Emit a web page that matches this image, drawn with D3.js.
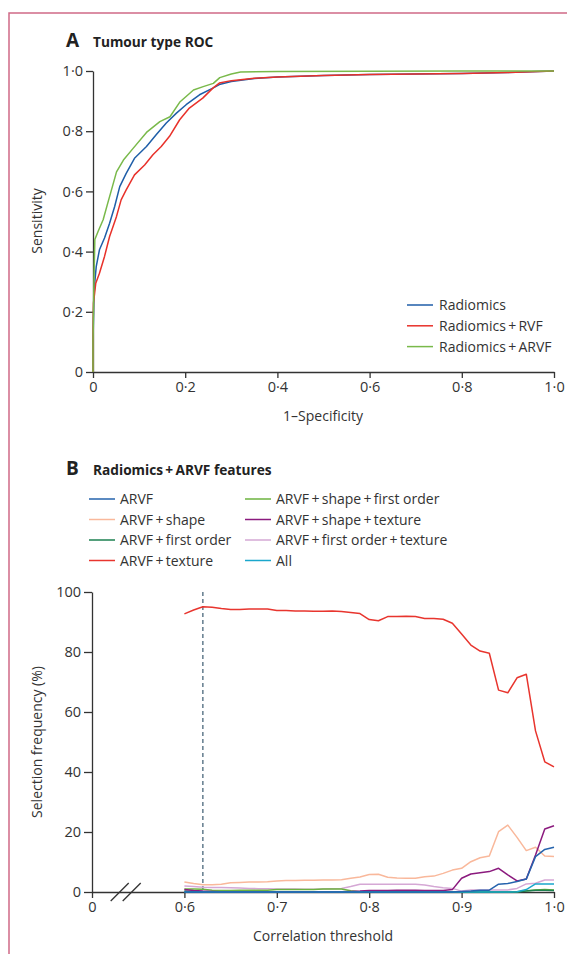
<!DOCTYPE html>
<html>
<head>
<meta charset="utf-8">
<script src="https://cdn.jsdelivr.net/npm/d3@7"></script>
<style>
  body { margin: 0; background: #fff; }
  svg { display: block; font-family: "Open Sans", "Noto Sans", sans-serif; }
  .axis path, .axis line { stroke: #333; stroke-width: 1.3; }
  .axis text { fill: #333; font-size: 14.5px; font-family: "Open Sans", "Noto Sans", sans-serif; }
  .lbl { fill: #333; font-size: 14px; }
</style>
</head>
<body>
<div class="chart"></div>
<script>
// PANEL A DATA: ROC points [1-specificity, sensitivity] //
var rocRadiomics = [[0,0],[0,0.1],[0.002,0.25],[0.004,0.3],[0.007,0.35],[0.014,0.406],[0.025,0.445],[0.036,0.494],[0.047,0.55],[0.058,0.616],[0.072,0.66],[0.09,0.71],[0.116,0.749],[0.137,0.788],[0.159,0.827],[0.181,0.86],[0.202,0.888],[0.231,0.921],[0.26,0.943],[0.274,0.955],[0.3,0.965],[0.35,0.975],[0.4,0.98],[0.5,0.985],[0.6,0.988],[0.7,0.99],[0.8,0.992],[0.9,0.995],[1,1]];
var rocRVF = [[0,0],[0,0.12],[0.001,0.228],[0.006,0.295],[0.014,0.328],[0.025,0.384],[0.036,0.45],[0.051,0.517],[0.061,0.572],[0.072,0.605],[0.09,0.655],[0.112,0.688],[0.13,0.722],[0.148,0.749],[0.166,0.783],[0.188,0.838],[0.209,0.877],[0.238,0.91],[0.26,0.943],[0.274,0.96],[0.3,0.968],[0.35,0.976],[0.4,0.98],[0.5,0.985],[0.6,0.988],[0.7,0.99],[0.8,0.992],[0.9,0.995],[1,1]];
var rocARVF = [[0,0],[0,0.1],[0.002,0.3],[0.004,0.44],[0.011,0.467],[0.022,0.506],[0.032,0.561],[0.041,0.61],[0.051,0.665],[0.066,0.704],[0.087,0.743],[0.116,0.796],[0.145,0.832],[0.167,0.848],[0.189,0.898],[0.218,0.937],[0.239,0.948],[0.261,0.959],[0.275,0.978],[0.3,0.99],[0.32,0.997],[0.4,0.998],[0.6,0.999],[0.8,1],[1,1]];
var rocNames = ["Radiomics", "Radiomics\u2009+\u2009RVF", "Radiomics\u2009+\u2009ARVF"];
var rocColors = ["#1f5ea8", "#e8312a", "#79b94a"];
var rocTicks = [0, 0.2, 0.4, 0.6, 0.8, 1.0];

// PANEL B DATA: selection frequency (%) by correlation threshold //
var thresholds = [0.60,0.61,0.62,0.63,0.64,0.65,0.66,0.67,0.68,0.69,0.70,0.71,0.72,0.73,0.74,0.75,0.76,0.77,0.78,0.79,0.80,0.81,0.82,0.83,0.84,0.85,0.86,0.87,0.88,0.89,0.90,0.91,0.92,0.93,0.94,0.95,0.96,0.97,0.98,0.99,1.00];
var selArvf = [0,0,0,0,0,0,0,0,0,0, 0,0,0,0,0,0,0,0,0,0, 0,0,0,0,0,0,0,0,0,0, 0.2,0.3,0.6,0.6,2.6,2.8,3.5,4.3,11.8,14.2, 14.9];
var selShape = [3.3,2.8,2.4,2.4,2.6,3.1,3.2,3.3,3.3,3.4, 3.7,3.8,3.8,3.9,3.9,4.0,4.0,4.1,4.6,5.0, 5.8,5.9,4.9,4.7,4.6,4.6,5.1,5.3,6.2,7.3, 7.9,10.1,11.4,12.0,20.1,22.3,18.2,13.8,14.9,12.0, 11.8];
var selFirstOrder = [0.3,0.2,0.1,0,0,0,0,0,0,0, 0,0,0,0,0,0,0,0,0,0, 0,0,0,0,0,0,0,0,0,0, 0,0,0,0,0,0,0,0.3,0.6,0.6, 0.5];
var selTexture = [92.7,94.0,95.1,94.9,94.5,94.2,94.2,94.3,94.3,94.3, 93.8,93.8,93.7,93.7,93.6,93.6,93.7,93.5,93.2,92.8, 90.8,90.4,91.8,91.8,91.9,91.8,91.2,91.2,90.9,89.6, 86.0,82.3,80.3,79.6,67.3,66.4,71.4,72.6,53.7,43.4, 41.7];
var selShapeFirstOrder = [1.0,1.0,0.9,0.6,0.5,0.5,0.6,0.6,0.6,0.6, 0.8,0.8,0.8,0.8,0.8,1.0,1.0,1.0,0.4,0.1, 0.1,0.1,0.1,0.1,0.1,0.1,0.1,0.1,0.1,0.1, 0.1,0.1,0.1,0.1,0.1,0.1,0.1,0.4,0.7,0.8, 0.7];
var selShapeTexture = [0.8,0.5,0.3,0.2,0.1,0.1,0.1,0.1,0.1,0.1, 0.1,0.1,0.1,0.1,0.1,0.1,0.1,0.1,0.2,0.3, 0.5,0.5,0.5,0.6,0.6,0.6,0.5,0.5,0.5,0.8, 4.6,6.0,6.4,6.8,7.9,5.7,3.7,4.3,12.3,21.0, 22.1];
var selFirstOrderTexture = [2.0,1.8,1.6,1.5,1.5,1.4,1.3,1.2,1.1,1.1, 1.0,1.0,1.0,0.9,0.9,1.0,1.1,1.2,1.8,2.6, 2.6,2.6,2.6,2.6,2.6,2.6,2.3,1.8,1.4,1.2, 0.3,0.7,0.7,0.7,0.7,0.7,1.2,2.7,2.9,4.0, 4.0];
var selAll = [0,0,0,0,0,0,0,0,0,0, 0,0,0,0,0,0,0,0,0,0, 0,0,0,0,0,0,0,0,0,0, 0,0,0,0,0,0,0.1,0.8,2.7,2.7, 2.7];
var selNames = ["ARVF", "ARVF\u2009+\u2009shape", "ARVF\u2009+\u2009first order", "ARVF\u2009+\u2009texture",
                "ARVF\u2009+\u2009shape\u2009+\u2009first order", "ARVF\u2009+\u2009shape\u2009+\u2009texture",
                "ARVF\u2009+\u2009first order\u2009+\u2009texture", "All"];
var selColors = ["#2563ad", "#f9b89b", "#1d8050", "#e8352e", "#6cb33f", "#8b1a7e", "#d5a8d5", "#1aa7cc"];
var selXTicks = [0.5, 0.6, 0.7, 0.8, 0.9, 1.0];
var selXTickLabels = ["0", "0\u00b76", "0\u00b77", "0\u00b78", "0\u00b79", "1\u00b70"];
var selYTicks = [0, 20, 40, 60, 80, 100];
var chosenThreshold = 0.62;

var fmtDot = function(d) { return d === 0 ? "0" : d3.format(".1f")(d).replace(".", "\u00b7"); };

var svg = d3.select(".chart").append("svg")
    .attr("width", 567)
    .attr("height", 954);

// pink frame (top + left)
svg.append("path")
    .attr("d", "M9,954V13H567")
    .attr("fill", "none")
    .attr("stroke", "#cf6a86")
    .attr("stroke-width", 1.5);

// ---------------- PANEL A ----------------
var xA = d3.scaleLinear().domain([0, 1]).range([93, 554]);
var yA = d3.scaleLinear().domain([0, 1]).range([372, 71]);

svg.append("text").attr("x", 66).attr("y", 47)
    .attr("font-size", 19).attr("font-weight", "bold").attr("fill", "#222").text("A");
svg.append("text").attr("x", 93).attr("y", 47)
    .attr("font-size", 13.7).attr("font-weight", "bold").attr("fill", "#222").text("Tumour type ROC");

svg.append("g").attr("class", "axis")
    .attr("transform", "translate(0,372)")
    .call(d3.axisBottom(xA).tickValues(rocTicks).tickFormat(fmtDot).tickSize(6).tickSizeOuter(0).tickPadding(4));
svg.append("g").attr("class", "axis")
    .attr("transform", "translate(93,0)")
    .call(d3.axisLeft(yA).tickValues(rocTicks).tickFormat(fmtDot).tickSize(7).tickSizeOuter(0).tickPadding(3));

svg.append("text").attr("class", "lbl").attr("x", 323).attr("y", 421)
    .attr("text-anchor", "middle").text("1\u2013Specificity");
svg.append("text").attr("class", "lbl")
    .attr("transform", "translate(42,221) rotate(-90)")
    .attr("text-anchor", "middle").text("Sensitivity");

var lineA = d3.line()
    .x(function(d) { return xA(d[0]); })
    .y(function(d) { return yA(d[1]); });

[rocRadiomics, rocRVF, rocARVF].forEach(function(series, i) {
    svg.append("path")
        .datum(series)
        .attr("fill", "none")
        .attr("stroke", rocColors[i])
        .attr("stroke-width", 1.5)
        .attr("stroke-linejoin", "round")
        .attr("d", lineA);
});

var legA = svg.append("g");
rocNames.forEach(function(name, i) {
    var yy = 305 + i * 20.8;
    legA.append("line").attr("x1", 407).attr("x2", 433).attr("y1", yy).attr("y2", yy)
        .attr("stroke", rocColors[i]).attr("stroke-width", 1.5);
    legA.append("text").attr("class", "lbl").attr("x", 439).attr("y", yy + 5).text(name);
});

// ---------------- PANEL B ----------------
var xB = d3.scaleLinear().domain([0.5, 1]).range([92, 554]);
var yB = d3.scaleLinear().domain([0, 100]).range([892, 592]);

svg.append("text").attr("x", 66).attr("y", 475)
    .attr("font-size", 19).attr("font-weight", "bold").attr("fill", "#222").text("B");
svg.append("text").attr("x", 93).attr("y", 475)
    .attr("font-size", 13.7).attr("font-weight", "bold").attr("fill", "#222").text("Radiomics\u2009+\u2009ARVF features");

var legB = svg.append("g");
selNames.forEach(function(name, i) {
    var col = Math.floor(i / 4), row = i % 4;
    var x0 = col === 0 ? 89 : 245;
    var yy = 499 + row * 20.5;
    legB.append("line").attr("x1", x0).attr("x2", x0 + 26).attr("y1", yy).attr("y2", yy)
        .attr("stroke", selColors[i]).attr("stroke-width", 1.5);
    legB.append("text").attr("class", "lbl").attr("x", x0 + 31).attr("y", yy + 5).text(name);
});

svg.append("g").attr("class", "axis")
    .attr("transform", "translate(0,892)")
    .call(d3.axisBottom(xB).tickValues(selXTicks)
        .tickFormat(function(d, i) { return selXTickLabels[i]; })
        .tickSize(6).tickSizeOuter(0).tickPadding(4));
svg.append("g").attr("class", "axis")
    .attr("transform", "translate(92,0)")
    .call(d3.axisLeft(yB).tickValues(selYTicks).tickSize(8).tickSizeOuter(0).tickPadding(3));

// axis break marks
[0, 12].forEach(function(dx) {
    var bx = xB(0.53) + dx;
    svg.append("line")
        .attr("x1", bx - 9).attr("y1", 901).attr("x2", bx + 9).attr("y2", 883)
        .attr("stroke", "#333").attr("stroke-width", 1.3);
});

svg.append("text").attr("class", "lbl").attr("x", 323).attr("y", 941)
    .attr("text-anchor", "middle").text("Correlation threshold");
svg.append("text").attr("class", "lbl")
    .attr("transform", "translate(42,742) rotate(-90)")
    .attr("text-anchor", "middle").text("Selection frequency (%)");

// dashed chosen threshold
svg.append("line")
    .attr("x1", xB(chosenThreshold)).attr("x2", xB(chosenThreshold))
    .attr("y1", yB(100)).attr("y2", yB(0))
    .attr("stroke", "#3b5a70").attr("stroke-width", 1.2)
    .attr("stroke-dasharray", "4,3");

var lineB = d3.line()
    .x(function(d, i) { return xB(thresholds[i]); })
    .y(function(d) { return yB(d); });

var selSeries = [selArvf, selShape, selFirstOrder, selTexture, selShapeFirstOrder, selShapeTexture, selFirstOrderTexture, selAll];
var drawOrder = [1, 6, 4, 2, 5, 7, 0, 3];
drawOrder.forEach(function(i) {
    svg.append("path")
        .datum(selSeries[i])
        .attr("fill", "none")
        .attr("stroke", selColors[i])
        .attr("stroke-width", 1.5)
        .attr("stroke-linejoin", "round")
        .attr("d", lineB);
});
</script>
</body>
</html>
